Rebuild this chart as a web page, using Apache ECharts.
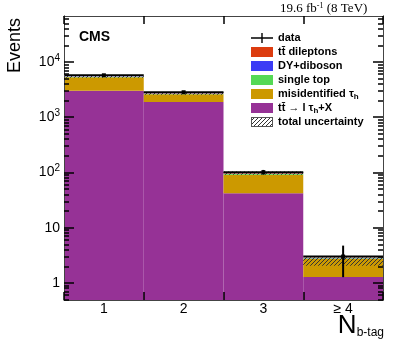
<!DOCTYPE html>
<html>
<head>
<meta charset="utf-8">
<script src="https://cdn.jsdelivr.net/npm/echarts@6/dist/echarts.min.js"></script>
<style>
  html, body { margin: 0; padding: 0; background: #fff; }
  #chart { width: 399px; height: 345px; }
</style>
</head>
<body>
<div id="chart"></div>
<script>
// bins of the b-tag multiplicity
const bins = ['1', '2', '3', '\u2265 4'];

// stacked expectation, bottom to top
const ttLtau    = [3020, 1890, 42, 1.28];
const misTau    = [2250, 715, 49, 1.45];
const singleTop = [60, 40, 3, 0.05];
const dyDiboson = [50, 15, 1, 0.03];
const ttDilep   = [40, 30, 2, 0.04];

// observed data
const dataVals = [5740, 2830, 101, 3];
const dataErr  = [76, 53, 10, 1.73];

// total uncertainty band
const uncLow  = [5200, 2560, 91, 2.05];
const uncHigh = [5650, 2820, 104, 2.9];

// y ticks
const yMajor = [1, 10, 100, 1000, 10000];
const yLabels = ['1', '10', '{b|10}{s|2}', '{b|10}{s|3}', '{b|10}{s|4}'];
const yMinor = [0.5, 0.6, 0.7, 0.8, 0.9, 2, 3, 4, 5, 6, 7, 8, 9,
  20, 30, 40, 50, 60, 70, 80, 90, 200, 300, 400, 500, 600, 700, 800, 900,
  2000, 3000, 4000, 5000, 6000, 7000, 8000, 9000, 20000, 30000, 40000, 50000, 60000];

const Y_MIN = 0.49, Y_MAX = 68000;
const SANS = '"Liberation Sans", Arial, Helvetica, sans-serif';
const SERIF = '"Liberation Serif", "Times New Roman", serif';

function hatchCanvas(w, h, border) {
  const c = document.createElement('canvas');
  c.width = w; c.height = h;
  const ctx = c.getContext('2d');
  ctx.strokeStyle = '#333';
  ctx.lineWidth = 1;
  for (let k = -h; k < w + h; k += 4) {
    ctx.beginPath();
    ctx.moveTo(k, h);
    ctx.lineTo(k + h, 0);
    ctx.stroke();
  }
  if (border) {
    ctx.strokeStyle = '#555';
    ctx.strokeRect(0.5, 0.5, w - 1, h - 1);
  }
  return c;
}
const hatchTile = hatchCanvas(4, 4, false);
const hatchIcon = 'image://' + hatchCanvas(22, 10, true).toDataURL();

function stackRect(params, api) {
  const i = api.value(0);
  const p0 = api.coord([i, api.value(1)]);
  const p1 = api.coord([i, api.value(2)]);
  const w = api.size([1, 0])[0];
  return {
    type: 'rect',
    shape: { x: p0[0] - w / 2, y: p1[1], width: w, height: p0[1] - p1[1] },
    style: { fill: api.visual('color') }
  };
}

const layers = [
  { name: 'tt\u0304 \u2192 l \u03c4h+X', vals: ttLtau, color: '#963296' },
  { name: 'misidentified \u03c4h', vals: misTau, color: '#cc9900' },
  { name: 'single top', vals: singleTop, color: '#55d955' },
  { name: 'DY+diboson', vals: dyDiboson, color: '#3c3cf5' },
  { name: 'tt\u0304 dileptons', vals: ttDilep, color: '#dc3c0f' }
];

let cum = bins.map(() => Y_MIN);
const stackSeries = layers.map(l => {
  const d = l.vals.map((v, i) => {
    const lo = cum[i], hi = (cum[i] === Y_MIN ? 0 : cum[i]) + v;
    return [i, lo, hi];
  });
  cum = d.map(x => x[2]);
  return {
    name: l.name, type: 'custom', clip: true,
    itemStyle: { color: l.color },
    renderItem: stackRect,
    encode: { x: 0, y: [1, 2] },
    data: d
  };
});

const uncSeries = {
  name: 'total uncertainty', type: 'custom', clip: true,
  itemStyle: { color: '#333' },
  encode: { x: 0, y: [1, 2] },
  data: bins.map((b, i) => [i, uncLow[i], uncHigh[i]]),
  renderItem(params, api) {
    const i = api.value(0);
    const p0 = api.coord([i, api.value(1)]);
    const p1 = api.coord([i, api.value(2)]);
    const w = api.size([1, 0])[0];
    return {
      type: 'rect',
      shape: { x: p0[0] - w / 2, y: p1[1], width: w, height: p0[1] - p1[1] },
      style: { fill: { image: hatchTile, repeat: 'repeat' } }
    };
  }
};

const dataSeries = {
  name: 'data', type: 'custom', clip: true,
  itemStyle: { color: '#000' },
  encode: { x: 0, y: [1, 2, 3] },
  data: bins.map((b, i) => [i, dataVals[i], dataVals[i] - dataErr[i], dataVals[i] + dataErr[i]]),
  renderItem(params, api) {
    const i = api.value(0);
    const c = api.coord([i, api.value(1)]);
    const lo = api.coord([i, api.value(2)]);
    const hi = api.coord([i, api.value(3)]);
    const w = api.size([1, 0])[0];
    const ls = { stroke: '#000', lineWidth: 2 };
    return {
      type: 'group',
      children: [
        { type: 'line', shape: { x1: c[0] - w / 2, y1: c[1], x2: c[0] + w / 2, y2: c[1] }, style: ls },
        { type: 'line', shape: { x1: c[0], y1: lo[1], x2: c[0], y2: hi[1] }, style: ls },
        { type: 'rect', shape: { x: c[0] - 2, y: c[1] - 2, width: 4, height: 4 }, style: { fill: '#000' } }
      ]
    };
  }
};

const legendText = {
  'data': 'data',
  'tt\u0304 dileptons': 'tt\u0304 dileptons',
  'DY+diboson': 'DY+diboson',
  'single top': 'single top',
  'misidentified \u03c4h': 'misidentified \u03c4{h|h}',
  'tt\u0304 \u2192 l \u03c4h+X': 'tt\u0304 \u2192 l \u03c4{h|h}+X',
  'total uncertainty': 'total uncertainty'
};

// log axis with inward ROOT style ticks at given values
function yAxisDef(pos, ticks, len, withLabels) {
  const axis = {
    type: 'log', min: Y_MIN, max: Y_MAX, position: pos, z: 10,
    axisLine: { show: true, lineStyle: { color: '#444', width: 1 } },
    splitLine: { show: false },
    axisTick: { show: true, inside: true, length: len, customValues: ticks,
      lineStyle: { color: '#000', width: 1.5 } },
    axisLabel: { show: false }
  };
  if (withLabels) {
    axis.axisLabel = {
      show: true, customValues: yMajor, margin: 4, color: '#000',
      fontFamily: SANS, fontSize: 14,
      formatter: v => yLabels[Math.round(Math.log10(v))],
      rich: {
        b: { fontFamily: SANS, fontSize: 14, lineHeight: 18, color: '#000' },
        s: { fontFamily: SANS, fontSize: 10, lineHeight: 10, verticalAlign: 'top', color: '#000' }
      }
    };
  }
  return axis;
}

function xAxisDef(pos, withLabels) {
  return {
    type: 'category', data: bins, position: pos, boundaryGap: true, z: 10,
    axisLine: { show: true, lineStyle: { color: '#444', width: 1 } },
    axisTick: { show: true, inside: true, length: 8, interval: 0, lineStyle: { color: '#000', width: 1.5 } },
    axisLabel: withLabels
      ? { color: '#000', fontFamily: SANS, fontSize: 14, margin: 2, interval: 0 }
      : { show: false },
    splitLine: { show: false }
  };
}

const chart = echarts.init(document.getElementById('chart'), null, { renderer: 'canvas' });
chart.setOption({
  animation: false,
  backgroundColor: '#fff',
  grid: { left: 64, right: 16, top: 16, bottom: 45 },
  xAxis: [xAxisDef('bottom', true), xAxisDef('top', false)],
  yAxis: [
    yAxisDef('left', yMajor, 10, true),
    yAxisDef('left', yMinor, 5, false),
    yAxisDef('right', yMajor, 10, false),
    yAxisDef('right', yMinor, 5, false)
  ],
  legend: {
    orient: 'vertical', left: 251, top: 31, padding: 0,
    itemWidth: 22, itemHeight: 10, itemGap: 0,
    selectedMode: false,
    textStyle: {
      fontFamily: SANS, fontSize: 11, fontWeight: 'bold', color: '#000', lineHeight: 14,
      rich: { h: { fontFamily: SANS, fontSize: 8, fontWeight: 'bold', lineHeight: 8, verticalAlign: 'bottom', color: '#000' } }
    },
    formatter: name => legendText[name],
    data: [
      { name: 'data', icon: 'path://M0,4.3H22V5.7H0ZM10.3,0H11.7V10H10.3Z' },
      { name: 'tt\u0304 dileptons', icon: 'rect' },
      { name: 'DY+diboson', icon: 'rect' },
      { name: 'single top', icon: 'rect' },
      { name: 'misidentified \u03c4h', icon: 'rect' },
      { name: 'tt\u0304 \u2192 l \u03c4h+X', icon: 'rect' },
      { name: 'total uncertainty', icon: hatchIcon }
    ]
  },
  graphic: [
    { type: 'text', x: 79, y: 37, style: { text: 'CMS', font: 'bold 14px ' + SANS, fill: '#000', verticalAlign: 'middle' } },
    { type: 'text', x: 280, y: 9, style: {
        text: '{a|19.6 fb}{s|-1}{a| (8 TeV)}', verticalAlign: 'middle', fill: '#000',
        rich: { a: { fontFamily: SERIF, fontSize: 13, lineHeight: 14 },
                s: { fontFamily: SERIF, fontSize: 8, lineHeight: 8, verticalAlign: 'top' } } } },
    { type: 'text', x: 15, y: 18, rotation: Math.PI / 2, style: {
        text: 'Events', font: '18px ' + SANS, fill: '#000', align: 'right', verticalAlign: 'middle' } },
    { type: 'text', x: 384, y: 339, style: {
        text: '{n|N}{s|b-tag}', align: 'right', verticalAlign: 'bottom', fill: '#000',
        rich: { n: { fontFamily: SANS, fontSize: 26, lineHeight: 26 },
                s: { fontFamily: SANS, fontSize: 12, lineHeight: 12, verticalAlign: 'bottom' } } } }
  ],
  series: stackSeries.concat([uncSeries, dataSeries])
});
</script>
</body>
</html>
